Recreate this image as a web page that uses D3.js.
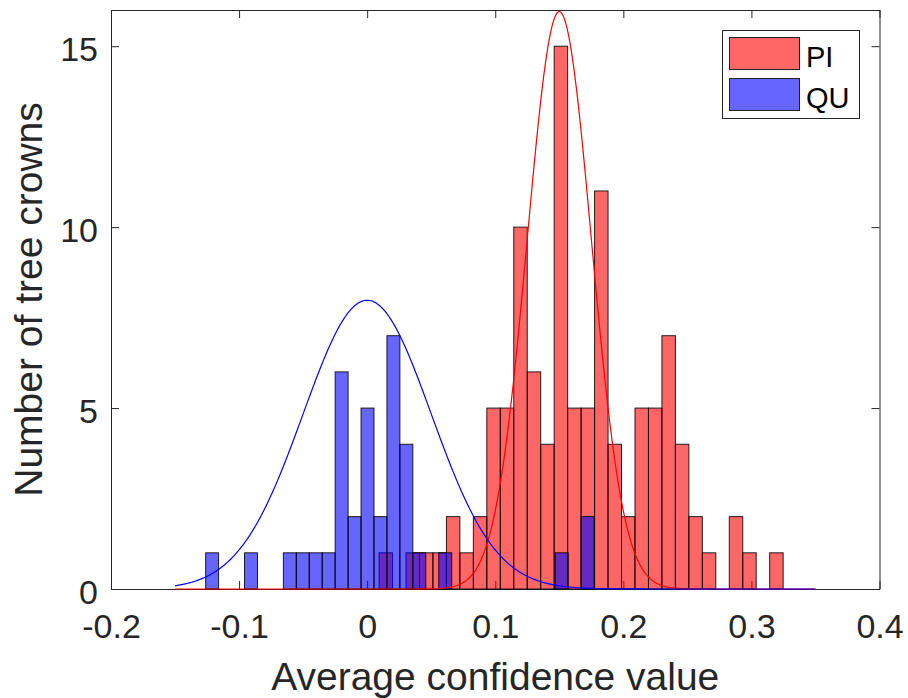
<!DOCTYPE html>
<html>
<head>
<meta charset="utf-8">
<script src="https://cdn.jsdelivr.net/npm/d3@7"></script>
<style>
    body { margin: 0; background: #fff; }
    svg { display: block; font-family: "Liberation Sans", Arial, sans-serif; }
</style>
</head>
<body>
<script>
// tick values
var xTicks = [-0.2, -0.1, 0, 0.1, 0.2, 0.3, 0.4];
var yTicks = [0, 5, 10, 15];

// PI histogram: first edge, bin width, counts
var piStart = 0.0093;
var piBinWidth = 0.010516;
var piCounts = [1, 0, 1, 1, 1, 2, 1, 2, 5, 5, 10, 6, 4, 15, 5, 5, 11, 4, 2, 5, 5, 7, 4, 2, 1, 0, 2, 1, 0, 1];

// QU histogram
var quStart = -0.1261;
var quBinWidth = 0.01011;
var quCounts = [1, 0, 0, 1, 0, 0, 1, 1, 1, 1, 6, 2, 5, 2, 7, 4, 1, 0, 1, 0, 0, 0, 0, 0, 0, 0, 0, 1, 0, 2];

// normal fits (mean, std) for PI and QU, plotted over curveRange
var fitNames = ["PI", "QU"];
var fitMu = [0.15, 0];
var fitSigma = [0.025, 0.05];
var curveRange = [-0.15, 0.35];

var width = 908;
var height = 698;
var plot = { left: 111, right: 879.5, top: 10, bottom: 589 };
var axisColor = "#262626";

var svg = d3.select("body")
    .append("svg")
    .attr("width", width)
    .attr("height", height);

var xScale = d3.scaleLinear()
    .domain([-0.2, 0.4])
    .range([plot.left, plot.right]);

var yScale = d3.scaleLinear()
    .domain([0, 16])
    .range([plot.bottom, plot.top]);

// 坐标轴 (box with inward ticks on all sides)
var fmt = function(d) { return String(+d.toFixed(1)); }; // plain hyphen like MATLAB

var gx = svg.append("g")
    .attr("transform", "translate(0," + plot.bottom + ")")
    .call(d3.axisBottom(xScale).tickValues(xTicks).tickFormat(fmt).tickSizeInner(-8).tickSizeOuter(0).tickPadding(25));

var gy = svg.append("g")
    .attr("transform", "translate(" + plot.left + ",0)")
    .call(d3.axisLeft(yScale).tickValues(yTicks).tickFormat(fmt).tickSizeInner(-8).tickSizeOuter(0).tickPadding(13));

svg.append("g")
    .attr("transform", "translate(0," + plot.top + ")")
    .call(d3.axisTop(xScale).tickValues(xTicks).tickFormat("").tickSizeInner(-8).tickSizeOuter(0));

svg.append("g")
    .attr("transform", "translate(" + plot.right + ",0)")
    .call(d3.axisRight(yScale).tickValues(yTicks).tickFormat("").tickSizeInner(-8).tickSizeOuter(0));

svg.selectAll(".domain, .tick line")
    .attr("stroke", axisColor)
    .attr("stroke-width", 1);

svg.selectAll(".tick text")
    .attr("fill", axisColor)
    .style("font-size", "34px")
    .style("font-family", "'Liberation Sans', Arial, sans-serif");

gy.selectAll(".tick text").attr("dy", "14");

// axis titles
svg.append("text")
    .attr("x", (plot.left + plot.right) / 2)
    .attr("y", 690)
    .attr("text-anchor", "middle")
    .attr("fill", axisColor)
    .style("font-size", "39px")
    .text("Average confidence value");

svg.append("text")
    .attr("transform", "translate(42," + (plot.top + plot.bottom) / 2 + ") rotate(-90)")
    .attr("text-anchor", "middle")
    .attr("fill", axisColor)
    .style("font-size", "39px")
    .text("Number of tree crowns");

// 直方图
function drawHist(counts, start, w, color) {
    var bins = counts.map(function(c, i) {
        return { x0: start + i * w, x1: start + (i + 1) * w, n: c };
    }).filter(function(d) { return d.n > 0; });

    svg.append("g")
        .selectAll("rect")
        .data(bins)
        .enter()
        .append("rect")
        .attr("x", function(d) { return xScale(d.x0); })
        .attr("y", function(d) { return yScale(d.n); })
        .attr("width", function(d) { return xScale(d.x1) - xScale(d.x0); })
        .attr("height", function(d) { return yScale(0) - yScale(d.n); })
        .attr("fill", color)
        .attr("fill-opacity", 0.6)
        .attr("stroke", "#000")
        .attr("stroke-opacity", 0.85)
        .attr("stroke-width", 1);
}

drawHist(piCounts, piStart, piBinWidth, "#ff0000");
drawHist(quCounts, quStart, quBinWidth, "#0000ff");

// fitted normal curves
var curveColors = ["#ff0000", "#0000ff"];
var xs = d3.range(curveRange[0], curveRange[1] + 1e-9, 0.001);

fitNames.forEach(function(name, i) {
    var pts = xs.map(function(x) {
        var z = (x - fitMu[i]) / fitSigma[i];
        return [x, Math.exp(-0.5 * z * z) / (fitSigma[i] * Math.sqrt(2 * Math.PI))];
    });
    svg.append("path")
        .datum(pts)
        .attr("fill", "none")
        .attr("stroke", curveColors[i])
        .attr("stroke-width", 1.2)
        .attr("d", d3.line()
            .x(function(d) { return xScale(d[0]); })
            .y(function(d) { return yScale(d[1]); }));
});

// legend
var legend = svg.append("g");
legend.append("rect")
    .attr("x", 722.5).attr("y", 30.5)
    .attr("width", 137).attr("height", 88)
    .attr("fill", "#fff")
    .attr("stroke", axisColor)
    .attr("stroke-width", 1);

var legendColors = ["#ff6666", "#6666ff"];
fitNames.forEach(function(name, i) {
    legend.append("rect")
        .attr("x", 729.5).attr("y", 37.5 + i * 41)
        .attr("width", 70).attr("height", 32)
        .attr("fill", legendColors[i])
        .attr("stroke", "#222")
        .attr("stroke-width", 1);
    legend.append("text")
        .attr("x", 806)
        .attr("y", 66.5 + i * 41)
        .attr("fill", "#000")
        .style("font-size", "29px")
        .text(name);
});
</script>
</body>
</html>
